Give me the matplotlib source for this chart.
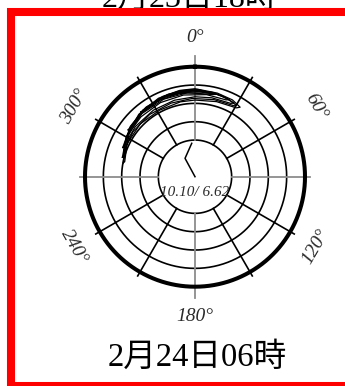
import numpy as np
import matplotlib
matplotlib.use("Agg")
import matplotlib.pyplot as plt
from matplotlib.patches import Rectangle

# ---- data -------------------------------------------------------------
ring_levels = [2, 3, 4, 5]
outer_level = 6
spoke_angles = list(range(0, 360, 30))
angle_labels = ["0°", "60°", "120°", "180°", "240°", "300°"]
angle_label_pos = [0, 60, 120, 180, 240, 300]
center_text = "10.10/ 6.62"
title_top = "2月23日18時"
title_bottom = "2月24日06時"

# wind trace from the centre (angle deg, radius)
trace_ang = [0, 331.5, 354.4]
trace_r = [0.0, 1.14, 1.83]

# contour loops (angle deg, radius)
loop1_ang = [281, 293, 306, 324, 338, 350, 0, 15, 26, 33, 31, 16, 0, 349, 332, 314, 296, 282, 281]
loop1_r = [3.98, 4.20, 4.38, 4.62, 4.72, 4.78, 4.80, 4.72, 4.66, 4.52, 4.38, 4.26, 4.18, 4.16, 4.11, 4.15, 4.12, 3.92, 3.98]
loop2_ang = [285, 300, 318, 335, 350, 2, 18, 28, 26, 12, 0, 345, 328, 310, 295, 286, 285]
loop2_r = [4.10, 4.33, 4.58, 4.72, 4.76, 4.76, 4.66, 4.55, 4.45, 4.40, 4.36, 4.32, 4.28, 4.25, 4.20, 4.05, 4.10]
loop3_ang = [292, 308, 325, 342, 357, 12, 24, 22, 8, 352, 335, 318, 302, 293, 292]
loop3_r = [4.25, 4.47, 4.64, 4.73, 4.75, 4.70, 4.60, 4.52, 4.52, 4.50, 4.46, 4.40, 4.33, 4.20, 4.25]
loop4_ang = [305, 322, 340, 358, 15, 12, 355, 338, 320, 306, 305]
loop4_r = [4.45, 4.62, 4.70, 4.72, 4.65, 4.58, 4.60, 4.56, 4.50, 4.40, 4.45]
loop5_ang = [320, 340, 0, 10, 8, 350, 335, 321, 320]
loop5_r = [4.60, 4.68, 4.70, 4.66, 4.62, 4.63, 4.60, 4.55, 4.60]
loop6_ang = [288, 303, 320, 338, 355, 10, 22, 30, 29, 14, 358, 342, 324, 306, 292, 288]
loop6_r = [4.05, 4.28, 4.52, 4.68, 4.74, 4.70, 4.62, 4.50, 4.42, 4.33, 4.27, 4.22, 4.20, 4.18, 4.10, 4.05]
loop7_ang = [335, 348, 0, 6, 4, 352, 340, 335]
loop7_r = [4.66, 4.72, 4.73, 4.70, 4.66, 4.66, 4.64, 4.66]

loops = [(loop1_ang, loop1_r), (loop2_ang, loop2_r), (loop3_ang, loop3_r),
         (loop4_ang, loop4_r), (loop5_ang, loop5_r), (loop6_ang, loop6_r),
         (loop7_ang, loop7_r)]


def unwrap_deg(a):
    a = np.asarray(a, dtype=float)
    return np.deg2rad(np.where(a > 180, a - 360, a))


# ---- figure -----------------------------------------------------------
W, H = 345, 386
fig = plt.figure(figsize=(W / 100, H / 100), dpi=100)
fig.patch.set_facecolor("white")

cx, cy, R = 195, 176.7, 110
ax = fig.add_axes([(cx - R) / W, (H - cy - R) / H, 2 * R / W, 2 * R / H],
                  projection="polar")
ax.set_theta_zero_location("N")
ax.set_theta_direction(-1)
ax.set_ylim(0, outer_level)
ax.set_axis_off()

full = np.linspace(0, 2 * np.pi, 721)
for lv in ring_levels:
    ax.plot(full, np.full_like(full, lv), color="black", lw=1.2, clip_on=False)
ax.plot(full, np.full_like(full, outer_level), color="black", lw=2.9,
        clip_on=False, zorder=3)

for a in spoke_angles:
    t = np.deg2rad(a)
    if a % 90 == 0:
        end = 6.6 if a in (0, 180) else 6.25
        ax.plot([t, t], [2, end], color="#8c8c8c", lw=1.3, clip_on=False)
    else:
        ax.plot([t, t], [2, 6.25], color="black", lw=1.2, clip_on=False)

for a_list, r_list in loops:
    ax.plot(unwrap_deg(a_list), r_list, color="black", lw=0.9, clip_on=False)

ax.plot(unwrap_deg(trace_ang), trace_r, color="black", lw=1.1)

label_font = dict(family="Liberation Serif", style="italic", color="#2a2a2a",
                  fontsize=14)
for a, s in zip(angle_label_pos, angle_labels):
    rot = -a if (a <= 90 or a >= 270) else 180 - a
    ax.text(np.deg2rad(a), 7.6, s, rotation=rot, rotation_mode="anchor",
            ha="center", va="center", **label_font)

ax.text(np.pi, 0.84, center_text, ha="center", va="center",
        family="Liberation Serif", style="italic", color="#2a2a2a", fontsize=11)

cjk = ["Liberation Serif", "Noto Sans CJK JP"]
fig.text(190 / W, 1 - 0 / H, title_top, ha="center", va="center",
         family=cjk, fontsize=23, color="black")
fig.text(197 / W, 1 - 358 / H, title_bottom, ha="center", va="center",
         family=cjk, fontsize=23.5, color="black")

frame = Rectangle((11 / W, 0), 360 / W, 1 - 11.5 / H, transform=fig.transFigure,
                  fill=False, edgecolor="#ff0000", lw=5.8, clip_on=False,
                  zorder=10)
fig.add_artist(frame)

fig.savefig("out.png", dpi=100)
